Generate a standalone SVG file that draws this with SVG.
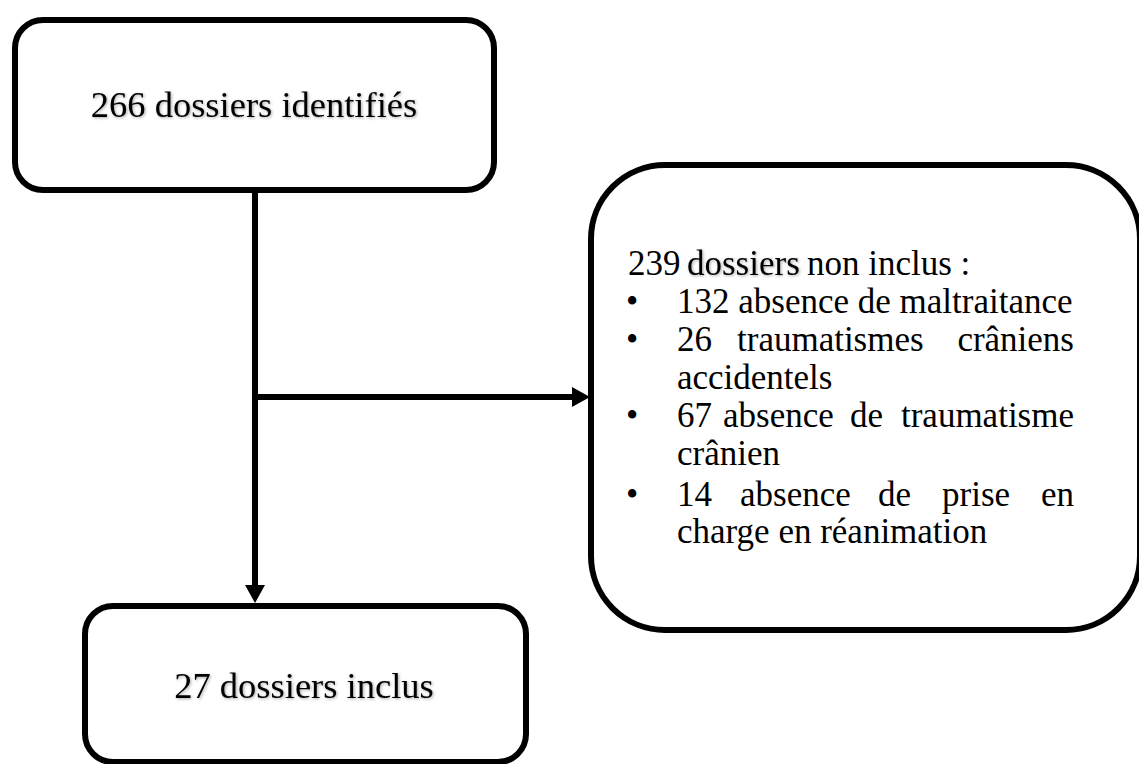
<svg xmlns="http://www.w3.org/2000/svg" width="1139" height="764" viewBox="0 0 1139 764">
<defs>
<style>
.box{fill:#fff;stroke:#000;stroke-width:6}
.t{font-family:"Liberation Serif","Times New Roman",serif;fill:#000}
.big{font-size:36.5px}
.med{font-size:35px}
.conn{stroke:#000;stroke-width:6;fill:none}
</style>
<filter id="glow" x="-5%" y="-20%" width="110%" height="140%">
<feGaussianBlur in="SourceAlpha" stdDeviation="1.6" result="b"/>
<feOffset in="b" dx="1" dy="1" result="o"/>
<feFlood flood-color="#000" flood-opacity="0.35"/>
<feComposite in2="o" operator="in" result="s"/>
<feMerge><feMergeNode in="s"/><feMergeNode in="SourceGraphic"/></feMerge>
</filter>
<marker id="arr" markerUnits="userSpaceOnUse" viewBox="0 0 18 20" refX="0" refY="10" markerWidth="18" markerHeight="20" orient="auto">
<path d="M0,0 L18,10 L0,20 Z" fill="#000"/>
</marker>
</defs>
<rect width="1139" height="764" fill="#fff"/>
<g id="connectors">
<path class="conn" d="M255,190 L255,585" marker-end="url(#arr)"/>
<path class="conn" d="M252,397 L572,397" marker-end="url(#arr)"/>
</g>
<g id="node-identifies">
<rect class="box" x="15" y="20" width="479" height="170" rx="28" ry="28"/>
<text class="t big" x="254" y="117" text-anchor="middle" filter="url(#glow)">266 dossiers identifiés</text>
</g>
<g id="node-non-inclus">
<rect class="box" x="591" y="165" width="549" height="465" rx="74" ry="74"/>
<g class="t med">
<text x="628" y="275">239</text>
<text x="687" y="275" filter="url(#glow)">dossiers</text>
<text x="807" y="275">non inclus :</text>
<text x="626" y="313">•</text>
<text x="677" y="313">132 absence de maltraitance</text>
<text x="626" y="351">•</text>
<text x="677" y="351">26</text>
<text x="737" y="351">traumatismes</text>
<text x="1074" y="351" text-anchor="end">crâniens</text>
<text x="677" y="389">accidentels</text>
<text x="626" y="427">•</text>
<text x="677" y="427">67</text>
<text x="723" y="427">absence</text>
<text x="850" y="427">de</text>
<text x="1074" y="427" text-anchor="end">traumatisme</text>
<text x="677" y="465">crânien</text>
<text x="626" y="506">•</text>
<text x="677" y="506">14</text>
<text x="740" y="506">absence</text>
<text x="878" y="506">de</text>
<text x="942" y="506">prise</text>
<text x="1074" y="506" text-anchor="end">en</text>
<text x="677" y="543">charge en réanimation</text>
</g>
</g>
<g id="node-inclus">
<rect class="box" x="85" y="606" width="441" height="156" rx="28" ry="28"/>
<text class="t big" x="304" y="698" text-anchor="middle" filter="url(#glow)">27 dossiers inclus</text>
</g>
</svg>
